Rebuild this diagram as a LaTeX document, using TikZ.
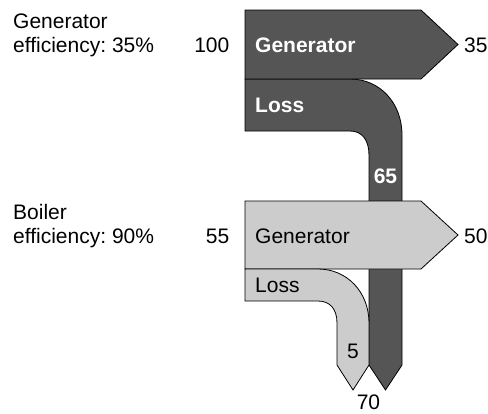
\documentclass[tikz,border=0pt]{standalone}
\usepackage{fontspec}
\setmainfont{Liberation Sans}
\definecolor{darkfill}{HTML}{555555}
\definecolor{lightfill}{HTML}{CCCCCC}
\begin{document}
\frenchspacing
\begin{tikzpicture}[x=1pt,y=-1pt,line join=miter,
  flowdark/.style={fill=darkfill,draw=black,line width=0.8pt},
  flowlight/.style={fill=lightfill,draw=black,line width=0.8pt},
  lbl/.style={font=\fontsize{21}{24.5}\selectfont,inner sep=0pt},
  wlbl/.style={font=\fontsize{21}{24.5}\selectfont\bfseries,inner sep=0pt,text=white}]
\useasboundingbox (0,0) rectangle (488,413);
% dark loss band (generator loss) running down
\path[flowdark] (245,79) -- (350,79) .. controls (380,79) and (402,103) .. (402,135)
  -- (402,365) -- (385.5,390) -- (369,365) -- (369,155)
  .. controls (369,140) and (362,131) .. (350,131) -- (245,131) -- cycle;
% dark generator arrow
\path[flowdark] (245,10) -- (421,10) -- (458,44.5) -- (421,79) -- (245,79) -- cycle;
% light generator arrow
\path[flowlight] (245,201) -- (421,201) -- (458,235) -- (421,269) -- (245,269) -- cycle;
% light loss band
\path[flowlight] (245,269) -- (318,269) .. controls (347,269) and (369,292) .. (369,323)
  -- (369,365) -- (353,390) -- (337,365) -- (337,323)
  .. controls (337,309) and (330,301) .. (318,301) -- (245,301) -- cycle;
% labels
\node[lbl,anchor=north west,align=left] (geneff) at (13,13.5) {Generator\\efficiency: 35\%};
\node[lbl,anchor=north west,align=left] (boieff) at (13,204) {Boiler\\efficiency: 90\%};
\node[lbl,anchor=base east] (in1) at (229.5,52.5) {100};
\node[lbl,anchor=base east] (in2) at (229.5,243) {55};
\node[wlbl,anchor=base west] (gen1) at (255,52.5) {Generator};
\node[wlbl,anchor=base west] (loss1) at (255,112) {Loss};
\node[wlbl,anchor=base] (v65) at (385.5,183) {65};
\node[lbl,anchor=base west] (out1) at (464,52.5) {35};
\node[lbl,anchor=base west] (gen2) at (255,243) {Generator};
\node[lbl,anchor=base west] (loss2) at (255,292.5) {Loss};
\node[lbl,anchor=base] (v5) at (353,358) {5};
\node[lbl,anchor=base west] (out2) at (464,243) {50};
\node[lbl,anchor=base] (v70) at (368.5,409) {70};
\end{tikzpicture}
\end{document}
